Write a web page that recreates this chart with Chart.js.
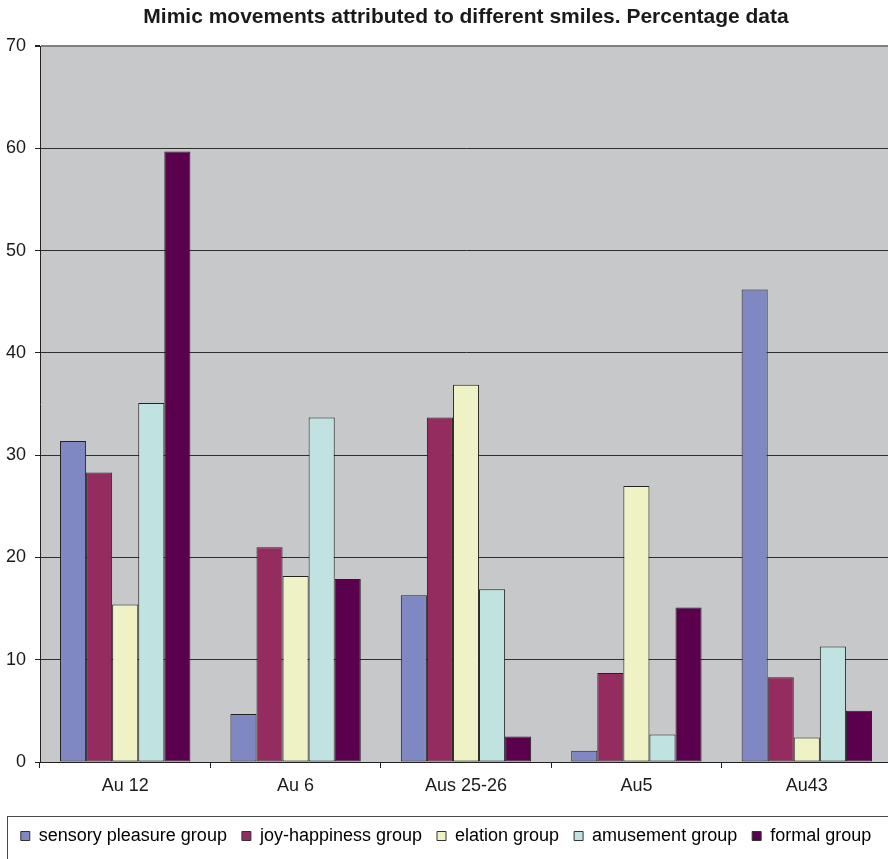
<!DOCTYPE html>
<html>
<head>
<meta charset="utf-8">
<script src="https://cdn.jsdelivr.net/npm/chart.js@4/dist/chart.umd.min.js"></script>
<style>
  html, body { margin: 0; padding: 0; background: #ffffff; overflow: hidden; }
  #wrap { width: 892px; height: 859px; position: relative; }
</style>
</head>
<body>
<div id="wrap"><canvas id="chart"></canvas></div>
<script>
// Action units (categories) and percentage values per smile group
const categories = ['Au 12', 'Au 6', 'Aus 25-26', 'Au5', 'Au43'];
const sensoryPleasure = [31.4, 4.7, 16.3, 1.1, 46.2];
const joyHappiness    = [28.3, 21.0, 33.7, 8.7, 8.3];
const elation         = [15.4, 18.2, 36.9, 27.0, 2.4];
const amusement       = [35.1, 33.7, 16.9, 2.7, 11.3];
const formal          = [59.7, 17.9, 2.5, 15.1, 5.0];
const yTicks = [0, 10, 20, 30, 40, 50, 60, 70];

const FONT = "'Liberation Sans', Arial, sans-serif";

// Grey plot background
const plotBackground = {
  id: 'plotBackground',
  beforeDraw(chart) {
    const { ctx, chartArea: a } = chart;
    ctx.save();
    ctx.fillStyle = '#c7c8ca';
    ctx.fillRect(a.left, a.top, a.right - a.left, a.bottom - a.top);
    ctx.restore();
  }
};

// Frame around the legend row
const legendFrame = {
  id: 'legendFrame',
  afterDraw(chart) {
    const ctx = chart.ctx;
    ctx.save();
    ctx.strokeStyle = '#4a4a4a';
    ctx.lineWidth = 1;
    ctx.strokeRect(7.5, 816.5, chart.width + 10, 60);
    ctx.restore();
  }
};

const series = [
  ['sensory pleasure group', sensoryPleasure, '#7f88c2'],
  ['joy-happiness group', joyHappiness, '#952c5f'],
  ['elation group', elation, '#eef2c4'],
  ['amusement group', amusement, '#c0e3e2'],
  ['formal group', formal, '#5a004c']
];

new Chart(document.getElementById('chart'), {
  type: 'bar',
  data: {
    labels: categories,
    datasets: series.map(([label, data, color]) => ({
      label,
      data,
      backgroundColor: color,
      borderColor: '#222222',
      borderWidth: 1,
      borderSkipped: false,
      categoryPercentage: 0.765,
      barPercentage: 1.0
    }))
  },
  options: {
    responsive: true,
    maintainAspectRatio: false,
    animation: false,
    layout: { padding: { left: 0, right: 0, top: 0, bottom: 4 } },
    plugins: {
      title: {
        display: true,
        text: 'Mimic movements attributed to different smiles. Percentage data',
        fullSize: false,
        color: '#1a1a1a',
        font: { family: FONT, size: 21, weight: 'bold' },
        padding: { top: 5, bottom: 16 }
      },
      legend: {
        position: 'bottom',
        labels: {
          color: '#1a1a1a',
          font: { family: FONT, size: 18 },
          boxWidth: 9,
          boxHeight: 9,
          padding: 15,
          generateLabels(chart) {
            return chart.data.datasets.map((ds, i) => ({
              text: ds.label,
              fillStyle: ds.backgroundColor,
              strokeStyle: '#333333',
              lineWidth: 1,
              hidden: false,
              datasetIndex: i
            }));
          }
        }
      },
      tooltip: { enabled: false }
    },
    scales: {
      x: {
        offset: true,
        grid: {
          offset: true,
          drawOnChartArea: false,
          drawTicks: true,
          tickLength: 6,
          color: '#222222'
        },
        border: { display: true, color: '#222222', width: 1 },
        ticks: {
          color: '#1a1a1a',
          font: { family: FONT, size: 18 },
          padding: 7,
          maxRotation: 0
        },
        afterFit(scale) { scale.height = 50; }
      },
      y: {
        min: 0,
        max: 70,
        afterBuildTicks(scale) { scale.ticks = yTicks.map(v => ({ value: v })); },
        grid: {
          color: ctx => (ctx.tick && ctx.tick.value === 70 ? '#808080' : '#2e2e2e'),
          lineWidth: ctx => (ctx.tick && ctx.tick.value === 70 ? 2 : 1),
          tickColor: '#222222',
          tickLength: 5
        },
        border: { display: true, color: '#222222', width: 1 },
        ticks: {
          color: '#1a1a1a',
          font: { family: FONT, size: 18 },
          padding: 9
        },
        afterFit(scale) { scale.width = 40; }
      }
    }
  },
  plugins: [plotBackground, legendFrame]
});
</script>
</body>
</html>
